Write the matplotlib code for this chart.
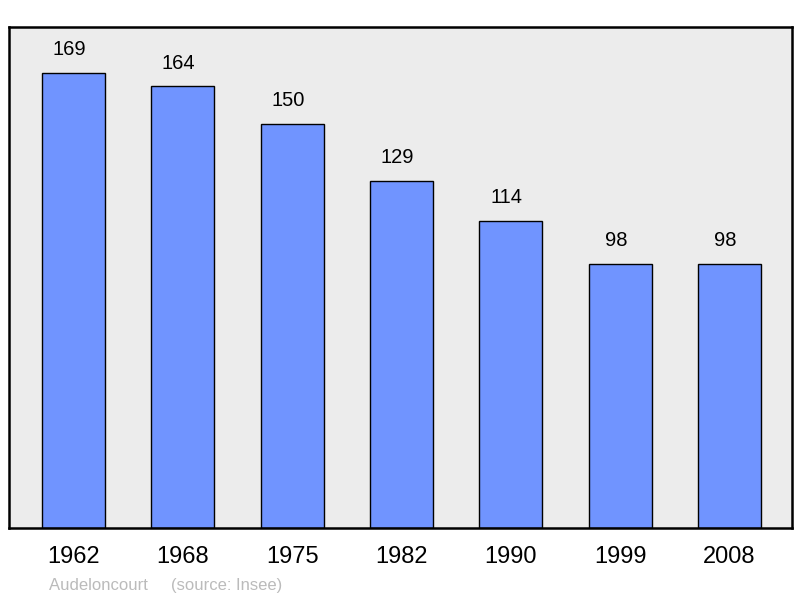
import numpy as np
import matplotlib.pyplot as plt

# Population data
years = ['1962', '1968', '1975', '1982', '1990', '1999', '2008']
population = [169, 164, 150, 129, 114, 98, 98]

plt.rcParams['font.family'] = ['Liberation Sans', 'DejaVu Sans']

fig = plt.figure(figsize=(8, 5.98), dpi=100)
ax = fig.add_axes([9 / 800, 70 / 598, 783 / 800, 501 / 598])
ax.set_facecolor('#ececec')

x = np.arange(len(years))
ax.bar(x, population, width=0.576, color='#7094ff', edgecolor='black',
       linewidth=1.0, zorder=2)

for xi, val in zip(x, population):
    ax.annotate(str(val), (xi, val), xytext=(-3, 10), textcoords='offset points',
                ha='center', va='bottom', fontsize=14.5)

ax.set_xlim(-0.59, 6.572)
ax.set_ylim(0, 186.1)
ax.set_xticks(x)
ax.set_xticklabels(years, fontsize=17)
ax.tick_params(axis='x', length=0, pad=13)
ax.set_yticks([])

for s in ax.spines.values():
    s.set_linewidth(1.8)
    s.set_color('black')

fig.text(49 / 800, 1 - 590 / 598, 'Audeloncourt     (source: Insee)',
         fontsize=12, color='#bbbbbb', va='baseline')

fig.savefig('out.png', dpi=100)
